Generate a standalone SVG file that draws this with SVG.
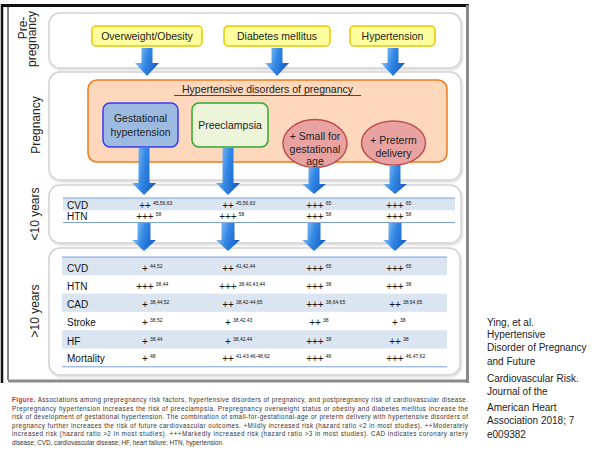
<svg xmlns="http://www.w3.org/2000/svg" width="605" height="455" viewBox="0 0 605 455">
<style>
.t{font-family:"Liberation Sans",Arial,sans-serif;fill:#111}
.lbl{font-family:"Liberation Sans",Arial,sans-serif;font-size:12px;fill:#222;text-anchor:middle}
.node{font-family:"Liberation Sans",Arial,sans-serif;font-size:10.5px;fill:#222;text-anchor:middle}
.cell{font-family:"Liberation Sans",Arial,sans-serif;font-size:10px;fill:#111}
.sup{font-size:5px}
.panel{fill:#fff;stroke:#d2d2d2;stroke-width:1.5}
.yel{fill:#ffff9e;stroke:#ecc800;stroke-width:1.5}
.arr{fill:url(#ag)}
.shade{fill:#dbe5f1}
.tl{stroke:#7da3d3;stroke-width:1}
.cap{font-family:"Liberation Sans",Arial,sans-serif;font-size:6.3px;fill:#333}
.ref{font-family:"Liberation Sans",Arial,sans-serif;font-size:10px;fill:#222}
</style>
<defs>
<linearGradient id="ag" x1="0" y1="0" x2="1" y2="0.3">
<stop offset="0" stop-color="#a9d7fa"/>
<stop offset="0.55" stop-color="#3488e6"/>
<stop offset="1" stop-color="#1a62c6"/>
</linearGradient>
<filter id="sh" x="-5%" y="-5%" width="110%" height="115%">
<feDropShadow dx="1" dy="1.5" stdDeviation="1.2" flood-color="#000" flood-opacity="0.15"/>
</filter>
</defs>
<rect width="605" height="455" fill="#fff"/>
<g id="frame">
<line x1="2" y1="4" x2="2" y2="383" stroke="#111" stroke-width="2.5"/>
<line x1="8" y1="7" x2="8" y2="380" stroke="#333" stroke-width="1.2"/>
<line x1="1" y1="5.5" x2="469" y2="5.5" stroke="#111" stroke-width="3"/>
<line x1="467.5" y1="5" x2="467.5" y2="383" stroke="#8a8a8a" stroke-width="3"/>
<line x1="8" y1="381" x2="469" y2="381" stroke="#8a8a8a" stroke-width="3"/>
</g>
<g id="panels">
<rect id="panel-pre" class="panel" filter="url(#sh)" x="49" y="13" width="412" height="55" rx="11"/>
<rect id="panel-preg" class="panel" filter="url(#sh)" x="49" y="72" width="412" height="108" rx="11"/>
<rect id="panel-lt10" class="panel" filter="url(#sh)" x="49" y="185" width="412" height="58" rx="11"/>
<rect id="panel-gt10" class="panel" filter="url(#sh)" x="49" y="248" width="411" height="127" rx="11"/>
</g>
<g id="labels">
<text class="lbl" transform="translate(27,28) rotate(-90)">Pre-</text>
<text class="lbl" transform="translate(36,39) rotate(-90)">pregnancy</text>
<text class="lbl" transform="translate(40,125) rotate(-90)">Pregnancy</text>
<text class="lbl" transform="translate(38.5,214) rotate(-90)">&lt;10 years</text>
<text class="lbl" transform="translate(38.5,311) rotate(-90)">&gt;10 years</text>
</g>
<g id="node-overweight">
<rect class="yel" x="92" y="26" width="110" height="20" rx="4"/>
<text class="node" x="147" y="39.5">Overweight/Obesity</text>
</g>
<g id="node-diabetes">
<rect class="yel" x="224" y="26" width="106" height="20" rx="4"/>
<text class="node" x="277" y="39.5">Diabetes mellitus</text>
</g>
<g id="node-hypertension">
<rect class="yel" x="350" y="26" width="85" height="20" rx="4"/>
<text class="node" x="392.5" y="39.5">Hypertension</text>
</g>
<g id="node-hdp">
<rect x="88" y="80" width="359" height="82" rx="9" fill="#fdd8bd" stroke="#ef7b1c" stroke-width="1.5"/>
<text class="node" font-size="11" x="267.5" y="93">Hypertensive disorders of pregnancy</text>
<line x1="174" y1="95.5" x2="361" y2="95.5" stroke="#222" stroke-width="0.8"/>
</g>
<g id="node-gestational">
<rect x="103" y="103" width="75" height="44" rx="7" fill="#9dbbe0" stroke="#3a3af5" stroke-width="1.5"/>
<text class="node" font-size="10" x="140.5" y="121.5">Gestational</text>
<text class="node" font-size="10" x="140.5" y="135.5">hypertension</text>
</g>
<g id="node-preeclampsia">
<rect x="192" y="103" width="76" height="44" rx="7" fill="#ecf4d9" stroke="#2ea82e" stroke-width="1.5"/>
<text class="node" font-size="10" x="230" y="128.5">Preeclampsia</text>
</g>
<g id="node-sga">
<ellipse cx="315" cy="143.5" rx="32" ry="24" fill="#e9a2a2" stroke="#c0504d" stroke-width="1.5"/>
<text class="node" font-size="10" x="315" y="139.5">+ Small for</text>
<text class="node" font-size="10" x="315" y="152.5">gestational</text>
<text class="node" font-size="10" x="315" y="165">age</text>
</g>
<g id="node-preterm">
<ellipse cx="393.5" cy="143" rx="32" ry="22" fill="#e9a2a2" stroke="#c0504d" stroke-width="1.5"/>
<text class="node" font-size="10" x="393.5" y="143.5">+ Preterm</text>
<text class="node" font-size="10" x="393.5" y="156.5">delivery</text>
</g>
<g id="connectors">
<polygon class="arr" points="141.5,48 152.5,48 152.5,63 159,63 147,76 135,63 141.5,63"/>
<polygon class="arr" points="271.5,48 282.5,48 282.5,63 289,63 277,76 265,63 271.5,63"/>
<polygon class="arr" points="387.5,48 398.5,48 398.5,63 405,63 393,76 381,63 387.5,63"/>
<polygon class="arr" points="138.5,148 149.5,148 149.5,183 156,183 144,195 132,183 138.5,183"/>
<polygon class="arr" points="222.5,148 233.5,148 233.5,183 240,183 228,195 216,183 222.5,183"/>
<polygon class="arr" points="308.5,167 319.5,167 319.5,184 326,184 314,194 302,184 308.5,184"/>
<polygon class="arr" points="389.5,165 400.5,165 400.5,184 407,184 395,194 383,184 389.5,184"/>
<polygon class="arr" points="137.5,223 150.5,223 150.5,240 156,240 144,251 132,240 137.5,240"/>
<polygon class="arr" points="221.5,223 234.5,223 234.5,240 240,240 228,251 216,240 221.5,240"/>
<polygon class="arr" points="307.5,223 320.5,223 320.5,240 326,240 314,251 302,240 307.5,240"/>
<polygon class="arr" points="388.5,223 401.5,223 401.5,240 407,240 395,251 383,240 388.5,240"/>
</g>
<g id="table-lt10">
<rect class="shade" x="63" y="198" width="392" height="12.3"/>
<line class="tl" x1="63" y1="198" x2="455" y2="198"/>
<line class="tl" x1="63" y1="222.5" x2="455" y2="222.5"/>
<text class="cell" x="67" y="208.5">CVD</text>
<text class="cell" x="139.2" y="208.5">++<tspan class="sup" dx="2" dy="-4">45,56,63</tspan></text>
<text class="cell" x="222.2" y="208.5">++<tspan class="sup" dx="2" dy="-4">45,56,63</tspan></text>
<text class="cell" x="306.2" y="208.5">+++<tspan class="sup" dx="2" dy="-4">65</tspan></text>
<text class="cell" x="386.2" y="208.5">+++<tspan class="sup" dx="2" dy="-4">65</tspan></text>
<text class="cell" x="67" y="219.8">HTN</text>
<text class="cell" x="136.2" y="219.8">+++<tspan class="sup" dx="2" dy="-4">58</tspan></text>
<text class="cell" x="219.2" y="219.8">+++<tspan class="sup" dx="2" dy="-4">58</tspan></text>
<text class="cell" x="306.2" y="219.8">+++<tspan class="sup" dx="2" dy="-4">58</tspan></text>
<text class="cell" x="386.2" y="219.8">+++<tspan class="sup" dx="2" dy="-4">58</tspan></text>
</g>
<g id="table-gt10">
<rect class="shade" x="62" y="257" width="385" height="18.3"/>
<rect class="shade" x="62" y="293.6" width="385" height="18.3"/>
<rect class="shade" x="62" y="330.2" width="385" height="18.3"/>
<line class="tl" x1="62" y1="257" x2="447" y2="257"/>
<line class="tl" x1="62" y1="366.8" x2="447" y2="366.8"/>
<text class="cell" x="67" y="271.5">CVD</text>
<text class="cell" x="142.1" y="271.5">+<tspan class="sup" dx="2" dy="-4">44,52</tspan></text>
<text class="cell" x="222.2" y="271.5">++<tspan class="sup" dx="2" dy="-4">41,42,44</tspan></text>
<text class="cell" x="306.2" y="271.5">+++<tspan class="sup" dx="2" dy="-4">65</tspan></text>
<text class="cell" x="386.2" y="271.5">+++<tspan class="sup" dx="2" dy="-4">65</tspan></text>
<text class="cell" x="67" y="289.8">HTN</text>
<text class="cell" x="136.2" y="289.8">+++<tspan class="sup" dx="2" dy="-4">38,44</tspan></text>
<text class="cell" x="219.2" y="289.8">+++<tspan class="sup" dx="2" dy="-4">38,40,43,44</tspan></text>
<text class="cell" x="306.2" y="289.8">+++<tspan class="sup" dx="2" dy="-4">38</tspan></text>
<text class="cell" x="386.2" y="289.8">+++<tspan class="sup" dx="2" dy="-4">38</tspan></text>
<text class="cell" x="67" y="308.1">CAD</text>
<text class="cell" x="142.1" y="308.1">+<tspan class="sup" dx="2" dy="-4">38,44,52</tspan></text>
<text class="cell" x="222.2" y="308.1">++<tspan class="sup" dx="2" dy="-4">38,42-44,65</tspan></text>
<text class="cell" x="306.2" y="308.1">+++<tspan class="sup" dx="2" dy="-4">38,64,65</tspan></text>
<text class="cell" x="389.2" y="308.1">++<tspan class="sup" dx="2" dy="-4">38,64,65</tspan></text>
<text class="cell" x="67" y="326.4">Stroke</text>
<text class="cell" x="142.1" y="326.4">+<tspan class="sup" dx="2" dy="-4">38,52</tspan></text>
<text class="cell" x="225.1" y="326.4">+<tspan class="sup" dx="2" dy="-4">38,42,43</tspan></text>
<text class="cell" x="309.2" y="326.4">++<tspan class="sup" dx="2" dy="-4">38</tspan></text>
<text class="cell" x="392.1" y="326.4">+<tspan class="sup" dx="2" dy="-4">38</tspan></text>
<text class="cell" x="67" y="344.7">HF</text>
<text class="cell" x="142.1" y="344.7">+<tspan class="sup" dx="2" dy="-4">38,44</tspan></text>
<text class="cell" x="225.1" y="344.7">+<tspan class="sup" dx="2" dy="-4">38,42,44</tspan></text>
<text class="cell" x="306.2" y="344.7">+++<tspan class="sup" dx="2" dy="-4">38</tspan></text>
<text class="cell" x="389.2" y="344.7">++<tspan class="sup" dx="2" dy="-4">38</tspan></text>
<text class="cell" x="67" y="362">Mortality</text>
<text class="cell" x="142.1" y="362">+<tspan class="sup" dx="2" dy="-4">48</tspan></text>
<text class="cell" x="222.2" y="362">++<tspan class="sup" dx="2" dy="-4">41-43,46-48,62</tspan></text>
<text class="cell" x="306.2" y="362">+++<tspan class="sup" dx="2" dy="-4">46</tspan></text>
<text class="cell" x="386.2" y="362">+++<tspan class="sup" dx="2" dy="-4">46,47,62</tspan></text>
</g>
<g id="caption">
<text class="cap" x="12" y="402" textLength="456" lengthAdjust="spacing"><tspan fill="#d9232d" font-weight="bold">Figure.</tspan> Associations among prepregnancy risk factors, hypertensive disorders of pregnancy, and postpregnancy risk of cardiovascular disease.</text>
<text class="cap" x="12" y="410.5" textLength="456" lengthAdjust="spacing">Prepregnancy hypertension increases the risk of preeclampsia. Prepregnancy overweight status or obesity and diabetes mellitus increase the</text>
<text class="cap" x="12" y="419" textLength="456" lengthAdjust="spacing">risk of development of gestational hypertension. The combination of small-for-gestational-age or preterm delivery with hypertensive disorders of</text>
<text class="cap" x="12" y="427.5" textLength="456" lengthAdjust="spacing">pregnancy further increases the risk of future cardiovascular outcomes. +Mildly increased risk (hazard ratio &lt;2 in most studies). ++Moderately</text>
<text class="cap" x="12" y="436" textLength="456" lengthAdjust="spacing">increased risk (hazard ratio &gt;2 in most studies). +++Markedly increased risk (hazard ratio &gt;3 in most studies). CAD indicates coronary artery</text>
<text class="cap" x="12" y="444.5">disease; CVD, cardiovascular disease; HF, heart failure; HTN, hypertension.</text>
</g>
<g id="reference">
<text class="ref" x="487" y="325.5">Ying, et al.</text>
<text class="ref" x="487" y="338">Hypertensive</text>
<text class="ref" x="487" y="350.5">Disorder of Pregnancy</text>
<text class="ref" x="487" y="364.5">and Future</text>
<text class="ref" x="487" y="381.5">Cardiovascular Risk.</text>
<text class="ref" x="487" y="394.5">Journal of the</text>
<text class="ref" x="487" y="410.5">American Heart</text>
<text class="ref" x="487" y="423.5">Association 2018; 7</text>
<text class="ref" x="487" y="437.5">e009382</text>
</g>
</svg>
